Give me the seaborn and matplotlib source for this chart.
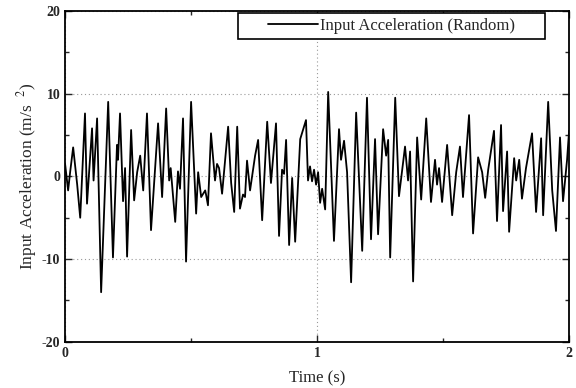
import numpy as np
import pandas as pd
import matplotlib
matplotlib.use("Agg")
import matplotlib.pyplot as plt
import seaborn as sns
from matplotlib.ticker import MultipleLocator
from matplotlib.patches import Rectangle

# Time (s) and acceleration (m/s^2)
time_s = [0.000, 0.012, 0.020, 0.032, 0.048, 0.060, 0.079, 0.087, 0.107, 0.113,
          0.127, 0.143, 0.171, 0.190, 0.206, 0.210, 0.218, 0.230, 0.238, 0.246,
          0.262, 0.274, 0.286, 0.298, 0.310, 0.325, 0.341, 0.369, 0.385, 0.401,
          0.413, 0.419, 0.437, 0.448, 0.456, 0.468, 0.480, 0.500, 0.520, 0.528,
          0.540, 0.556, 0.560, 0.567, 0.579, 0.595, 0.603, 0.611, 0.623, 0.647,
          0.659, 0.671, 0.683, 0.694, 0.706, 0.714, 0.722, 0.734, 0.754, 0.766,
          0.782, 0.802, 0.817, 0.837, 0.849, 0.861, 0.869, 0.877, 0.889, 0.901,
          0.913, 0.933, 0.956, 0.964, 0.972, 0.980, 0.988, 0.996, 1.004, 1.012,
          1.020, 1.032, 1.044, 1.067, 1.087, 1.095, 1.107, 1.119, 1.135, 1.155,
          1.179, 1.198, 1.214, 1.230, 1.242, 1.262, 1.274, 1.282, 1.290, 1.310,
          1.325, 1.349, 1.361, 1.369, 1.381, 1.397, 1.413, 1.433, 1.452, 1.468,
          1.476, 1.484, 1.496, 1.516, 1.536, 1.552, 1.567, 1.579, 1.603, 1.619,
          1.639, 1.655, 1.667, 1.679, 1.702, 1.714, 1.730, 1.738, 1.754, 1.762,
          1.782, 1.790, 1.802, 1.813, 1.829, 1.853, 1.869, 1.889, 1.897, 1.917,
          1.933, 1.948, 1.964, 1.976, 1.992, 2.000]
accel = [1.5, -1.7, 0.5, 3.5, -1.0, -5.0, 7.6, -3.3, 5.8, -0.5,
         7.0, -14.0, 9.0, -9.8, 3.8, 2.0, 7.6, -3.0, 1.0, -9.7,
         5.6, -2.9, 0.5, 2.5, -1.7, 7.6, -6.5, 6.4, -2.5, 8.2,
         -0.5, 1.0, -5.5, 0.6, -1.5, 7.0, -10.3, 9.0, -4.5, 0.5,
         -2.5, -1.7, -2.3, -3.5, 5.2, -0.5, 1.5, 1.0, -2.1, 6.0,
         -0.8, -4.3, 6.0, -3.9, -2.2, -2.5, 1.9, -1.7, 2.5, 4.4,
         -5.3, 6.6, -0.8, 6.4, -7.2, 0.8, 0.3, 4.4, -8.3, -0.2,
         -7.9, 4.5, 6.8, -0.5, 1.2, -0.6, 0.8, -1.0, 0.5, -3.2,
         -1.5, -4.0, 10.2, -7.8, 5.7, 2.0, 4.3, 0.5, -12.8, 7.7,
         -9.0, 9.5, -7.6, 4.5, -7.0, 5.7, 2.5, 4.4, -9.8, 9.5,
         -2.4, 3.6, -0.5, 3.0, -12.7, 4.7, -2.8, 7.0, -3.1, 2.0,
         -1.0, 1.0, -3.1, 3.8, -4.7, 0.5, 3.6, -2.5, 7.4, -6.9,
         2.3, 0.5, -2.6, 0.8, 5.5, -5.4, 6.2, -4.2, 3.0, -6.7,
         2.2, -0.5, 2.0, -2.7, 1.0, 5.2, -4.3, 4.6, -4.7, 9.0,
         -1.7, -6.6, 4.7, -3.0, 2.0, 5.5]

series_label = "Input Acceleration (Random)"
x_label = "Time (s)"
y_label = "Input Acceleration (m/s  $^{2}$)"

sns.set_style("ticks")
plt.rcParams['font.family'] = ['Liberation Serif', 'DejaVu Serif']
plt.rcParams['mathtext.fontset'] = 'stix'
plt.rcParams['axes.unicode_minus'] = False

fig = plt.figure(figsize=(5.76, 3.88), dpi=100)
ax = fig.add_axes([0.113, 0.119, 0.875, 0.853])

df = pd.DataFrame({"t": time_s, "a": accel})
sns.lineplot(data=df, x="t", y="a", ax=ax, color="black", linewidth=1.3,
             estimator=None, sort=False, label=series_label)

ax.set_xlim(0, 2)
ax.set_ylim(-20, 20)
ax.xaxis.set_major_locator(MultipleLocator(1))
ax.xaxis.set_minor_locator(MultipleLocator(0.5))
ax.yaxis.set_major_locator(MultipleLocator(10))
ax.yaxis.set_minor_locator(MultipleLocator(5))
ax.tick_params(which='both', direction='in', top=True, right=True,
               labelsize=10, width=1.0)
ax.tick_params(which='major', length=5)
ax.tick_params(which='minor', length=3)
for lab in ax.get_xticklabels() + ax.get_yticklabels():
    lab.set_fontweight('bold')
ax.grid(which='major', linestyle=(0, (1, 2.5)), color='#999999', linewidth=0.8)
for s in ax.spines.values():
    s.set_linewidth(1.3)
    s.set_color('black')

ax.set_xlabel(x_label, fontsize=12, labelpad=8)
ax.set_ylabel(y_label, fontsize=12.5, labelpad=2)

# legend: entries drawn by matplotlib, frame drawn as a wide box like the reference
leg = ax.legend(loc='center', bbox_to_anchor=(0.680, 0.933),
                bbox_transform=fig.transFigure, frameon=False, fontsize=12,
                handlelength=2.95, handletextpad=0.15, borderpad=0)
frame = Rectangle((0.413, 0.8995), 0.533, 0.067, transform=fig.transFigure,
                  facecolor='white', edgecolor='black', linewidth=1.2, zorder=4)
ax.add_artist(frame)
leg.set_zorder(5)

fig.savefig("out.png", dpi=100)
